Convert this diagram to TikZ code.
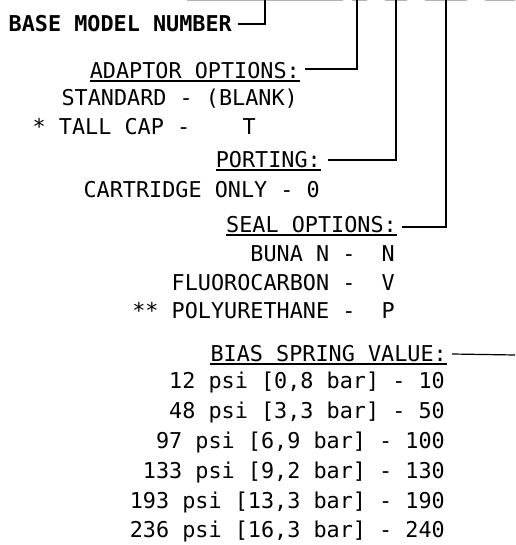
\documentclass[tikz,border=0pt]{standalone}
\usepackage{fontspec}
\setmainfont{DejaVu Sans Mono}

\begin{document}
\begin{tikzpicture}[x=1pt,y=-1pt,
    entry/.style={anchor=east,inner sep=0pt,text height=15.9pt,text depth=0pt,
      font=\fontsize{21.8}{22}\selectfont},
    heading/.style={entry},
    underbar/.style={line width=1.4pt},
    leader/.style={line width=1.2pt},
    blank/.style={line width=1.5pt,color=black!30}]
  \useasboundingbox (0,0) rectangle (515,545);

  % blanks of the model number, cut off at the top edge
  \foreach \a/\b in {187/343, 352/367, 385/407, 425/467, 485/515}
    \draw[blank] (\a,0.75) -- (\b,0.75);

  % base model number
  \node[entry,font=\fontsize{21.8}{22}\selectfont\bfseries] (base) at (232,24) {BASE MODEL NUMBER};
  \coordinate (c1) at (265,0);
  \draw[leader] ([xshift=6pt]base.east) -| (c1);

  % adaptor options
  \node[heading] (adaptor) at (300,71) {ADAPTOR OPTIONS:};
  \draw[underbar] ([yshift=-2pt]adaptor.south west) -- ([yshift=-2pt]adaptor.south east);
  \coordinate (c2) at (357,0);
  \draw[leader] ([xshift=5pt,yshift=2pt]adaptor.east) -| (c2);
  \node[entry] (standard) at (298,98) {STANDARD - (BLANK)};
  \node[entry] (tallcap) at (256,127) {* TALL CAP -~~~~T};

  % porting
  \node[heading] (porting) at (321,160) {PORTING:};
  \draw[underbar] ([yshift=-2pt]porting.south west) -- ([yshift=-2pt]porting.south east);
  \coordinate (c3) at (396,0);
  \draw[leader] ([xshift=7pt]porting.east) -| (c3);
  \node[entry] (cartridge) at (320,190) {CARTRIDGE ONLY - 0};

  % seal options
  \node[heading] (seal) at (397,225) {SEAL OPTIONS:};
  \draw[underbar] ([yshift=-2pt]seal.south west) -- ([yshift=-2pt]seal.south east);
  \coordinate (c4) at (446,0);
  \draw[leader] ([xshift=5pt,yshift=-2pt]seal.east) -| (c4);
  \node[entry] (buna) at (395,254) {BUNA N -~~N};
  \node[entry] (fluoro) at (395,283) {FLUOROCARBON -~~V};
  \node[entry] (poly) at (395,311) {** POLYURETHANE -~~P};

  % bias spring value
  \node[heading] (bias) at (447,354) {BIAS SPRING VALUE:};
  \draw[underbar] ([yshift=-2pt]bias.south west) -- ([yshift=-2pt]bias.south east);
  \coordinate (c5) at (515,355);
  \draw[leader] ([xshift=5pt]bias.east) -- (c5);
  \foreach \v [count=\i from 0] in {{12 psi [0,8 bar] - 10}, {48 psi [3,3 bar] - 50},
      {97 psi [6,9 bar] - 100}, {133 psi [9,2 bar] - 130}, {193 psi [13,3 bar] - 190},
      {236 psi [16,3 bar] - 240}}
    \node[entry] (spring\i) at (445,381+29.8*\i) {\v};
\end{tikzpicture}
\end{document}
